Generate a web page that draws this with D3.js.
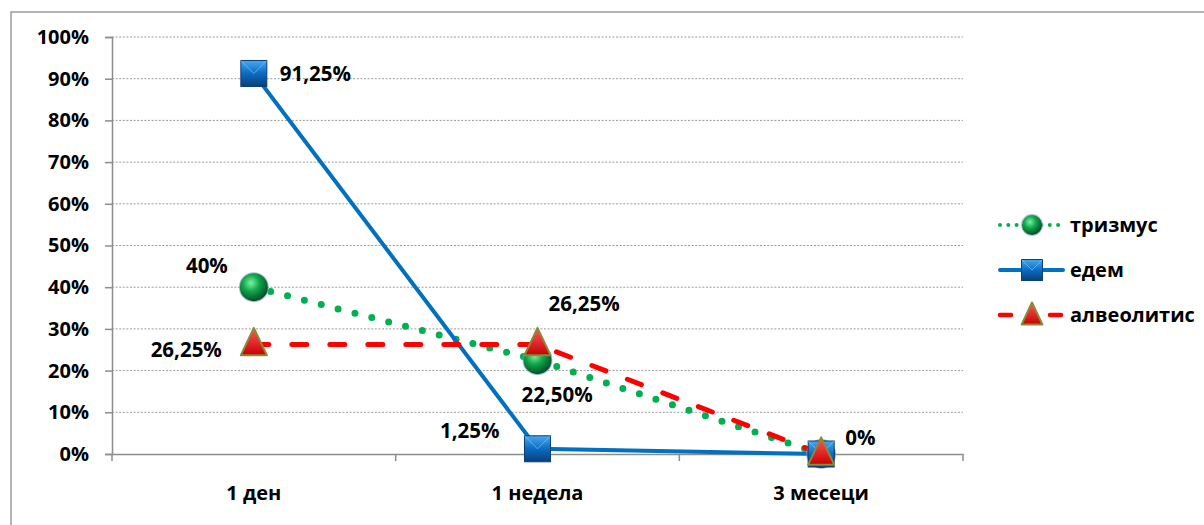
<!DOCTYPE html>
<html>
<head>
<meta charset="utf-8">
<script src="https://cdn.jsdelivr.net/npm/d3@7"></script>
<style>
  body { margin: 0; background: #fff; }
  text { font-family: "Open Sans", Lato, sans-serif; font-weight: bold; fill: #000; }
</style>
</head>
<body>
<svg id="chart" width="1204" height="525"></svg>
<script>
// data
var categories = ["1 ден", "1 недела", "3 месеци"];
var yTicks = [0, 10, 20, 30, 40, 50, 60, 70, 80, 90, 100];
var trizmus = [40, 22.5, 0];
var edem = [91.25, 1.25, 0];
var alveolitis = [26.25, 26.25, 0];
var seriesNames = ["тризмус", "едем", "алвеолитис"];

var FONT = "'Open Sans', Lato, sans-serif";
var svg = d3.select("#chart");
var plotL = 112, plotR = 963, plotT = 37, plotB = 454;

var x = d3.scaleBand().domain(categories).range([plotL, plotR]);
var y = d3.scaleLinear().domain([0, 100]).range([plotB, plotT]);
function cx(i) { return x(categories[i]) + x.bandwidth() / 2; }

// outer frame (only left/top visible in reference)
svg.append("rect").attr("x", 11).attr("y", 12).attr("width", 1220).attr("height", 540)
  .attr("fill", "none").attr("stroke", "#8c8c8c").attr("stroke-width", 1.3);

// defs: marker gradients
var defs = svg.append("defs");
var g1 = defs.append("radialGradient").attr("id", "gSphere").attr("cx", "40%").attr("cy", "35%").attr("r", "65%");
g1.append("stop").attr("offset", "0%").attr("stop-color", "#7ff0a8");
g1.append("stop").attr("offset", "45%").attr("stop-color", "#12a84a");
g1.append("stop").attr("offset", "100%").attr("stop-color", "#05502a");
var g2 = defs.append("linearGradient").attr("id", "gSquare").attr("x1", "0").attr("y1", "0").attr("x2", "0").attr("y2", "1");
g2.append("stop").attr("offset", "0%").attr("stop-color", "#4aa8f0");
g2.append("stop").attr("offset", "50%").attr("stop-color", "#0a6cc0");
g2.append("stop").attr("offset", "100%").attr("stop-color", "#0a3f7a");
var g3 = defs.append("linearGradient").attr("id", "gTri").attr("x1", "0").attr("y1", "0").attr("x2", "0").attr("y2", "1");
g3.append("stop").attr("offset", "0%").attr("stop-color", "#ff5a5a");
g3.append("stop").attr("offset", "100%").attr("stop-color", "#c80000");

// gridlines
svg.append("g").selectAll("line").data(yTicks.filter(function(d){ return d > 0; })).join("line")
  .attr("x1", plotL).attr("x2", plotR)
  .attr("y1", function(d){ return y(d); }).attr("y2", function(d){ return y(d); })
  .attr("stroke", "#9a9a9a").attr("stroke-width", 1).attr("stroke-dasharray", "2,1.6");

// y axis
var yAxis = d3.axisLeft(y).tickValues(yTicks).tickFormat(function(d){ return d + "%"; }).tickSize(7).tickPadding(16);
var ya = svg.append("g").attr("transform", "translate(" + plotL + ",0)").call(yAxis);
ya.select(".domain").attr("stroke", "#8c8c8c").attr("stroke-width", 1.5);
ya.selectAll(".tick line").attr("stroke", "#8c8c8c").attr("stroke-width", 1.5);
ya.selectAll("text").attr("font-size", 20).attr("font-family", FONT).attr("font-weight", "bold").attr("fill", "#000");

// x axis
var xAxis = d3.axisBottom(x).tickSize(0);
var xa = svg.append("g").attr("transform", "translate(0," + plotB + ")").call(xAxis);
xa.select(".domain").attr("stroke", "#8c8c8c").attr("stroke-width", 1.5);
xa.selectAll("text").attr("y", 46).attr("dy", 0).attr("font-size", 20).attr("font-family", FONT).attr("font-weight", "bold").attr("fill", "#000");
// category boundary ticks
var bounds = categories.map(function(c){ return x(c); }).concat([plotR]);
xa.selectAll(".bt").data(bounds).join("line").attr("class", "bt")
  .attr("x1", function(d){ return d; }).attr("x2", function(d){ return d; })
  .attr("y1", 0).attr("y2", 7).attr("stroke", "#8c8c8c").attr("stroke-width", 1.5);

var line = d3.line().x(function(d, i){ return cx(i); }).y(function(d){ return y(d); });

// marker drawers
function sphere(g, px, py, r) {
  g.append("circle").attr("cx", px).attr("cy", py).attr("r", r + 1).attr("fill", "#8aa7c8").attr("opacity", 0.7);
  g.append("circle").attr("cx", px).attr("cy", py).attr("r", r).attr("fill", "url(#gSphere)");
}
function square(g, px, py, s) {
  g.append("rect").attr("x", px - s / 2).attr("y", py - s / 2).attr("width", s).attr("height", s)
    .attr("fill", "url(#gSquare)").attr("stroke", "#0b3f78").attr("stroke-width", 1);
  g.append("path").attr("d", "M" + (px - s/2) + "," + (py - s/2) + "L" + px + "," + py + "L" + (px + s/2) + "," + (py - s/2))
    .attr("fill", "none").attr("stroke", "#7cc4ff").attr("stroke-width", 1).attr("opacity", 0.7);
}
function triangle(g, px, py, s) {
  var h = s * 1.05;
  g.append("path").attr("d", "M" + px + "," + (py - h * 0.61) + "L" + (px + s / 2) + "," + (py + h * 0.39) + "L" + (px - s / 2) + "," + (py + h * 0.39) + "Z")
    .attr("fill", "url(#gTri)").attr("stroke", "#8a8a3a").attr("stroke-width", 2).attr("stroke-linejoin", "round");
}

// тризмус
svg.append("path").datum(trizmus).attr("d", line).attr("fill", "none")
  .attr("stroke", "#00b050").attr("stroke-width", 7).attr("stroke-linecap", "round").attr("stroke-dasharray", "0,17.4");
// едем
svg.append("path").datum(edem).attr("d", line).attr("fill", "none")
  .attr("stroke", "#0070c0").attr("stroke-width", 4);
// алвеолитис
svg.append("path").datum(alveolitis).attr("d", line).attr("fill", "none")
  .attr("stroke", "#ff0000").attr("stroke-width", 5).attr("stroke-linecap", "round").attr("stroke-dasharray", "15,23");

var mk = svg.append("g");
trizmus.forEach(function(v, i){ sphere(mk, cx(i), y(v), 14); });
edem.forEach(function(v, i){ square(mk, cx(i), y(v), 26); });
alveolitis.forEach(function(v, i){ triangle(mk, cx(i), y(v), 26); });

// data labels
function fmt(v) { return (v === 0 ? "0" : (v % 1 === 0 ? String(v) : v.toFixed(2).replace(".", ","))) + "%"; }
var labels = svg.append("g").attr("font-size", 20.5);
function lab(v, i, dx, dy, anchor) {
  labels.append("text").attr("x", cx(i) + dx).attr("y", y(v) + dy).attr("text-anchor", anchor).text(fmt(v));
}
lab(edem[0], 0, 26, 8, "start");
lab(trizmus[0], 0, -26, -14, "end");
lab(alveolitis[0], 0, -32, 12, "end");
lab(alveolitis[1], 1, 11, -34, "start");
lab(trizmus[1], 1, -16, 42, "start");
lab(edem[1], 1, -38, -11, "end");
lab(edem[2], 2, 24, -9, "start");

// legend
var lg = svg.append("g");
var legY = [225, 270, 315];
var lx1 = 1000, lx2 = 1063, lmx = 1032;
lg.append("line").attr("x1", lx1).attr("x2", lx2).attr("y1", legY[0]).attr("y2", legY[0])
  .attr("stroke", "#00b050").attr("stroke-width", 4).attr("stroke-linecap", "round").attr("stroke-dasharray", "0,8.3");
sphere(lg, lmx, legY[0], 10);
lg.append("line").attr("x1", lx1).attr("x2", lx2).attr("y1", legY[1]).attr("y2", legY[1])
  .attr("stroke", "#0070c0").attr("stroke-width", 4).attr("stroke-linecap", "round");
square(lg, lmx, legY[1], 21);
lg.append("line").attr("x1", lx1).attr("x2", lx2).attr("y1", legY[2]).attr("y2", legY[2])
  .attr("stroke", "#ff0000").attr("stroke-width", 4.5).attr("stroke-linecap", "round").attr("stroke-dasharray", "11,39");
triangle(lg, lmx, legY[2] + 1, 21);
seriesNames.forEach(function(n, i){
  lg.append("text").attr("x", 1070).attr("y", legY[i] + 7).attr("font-size", 20).text(n);
});
</script>
</body>
</html>
